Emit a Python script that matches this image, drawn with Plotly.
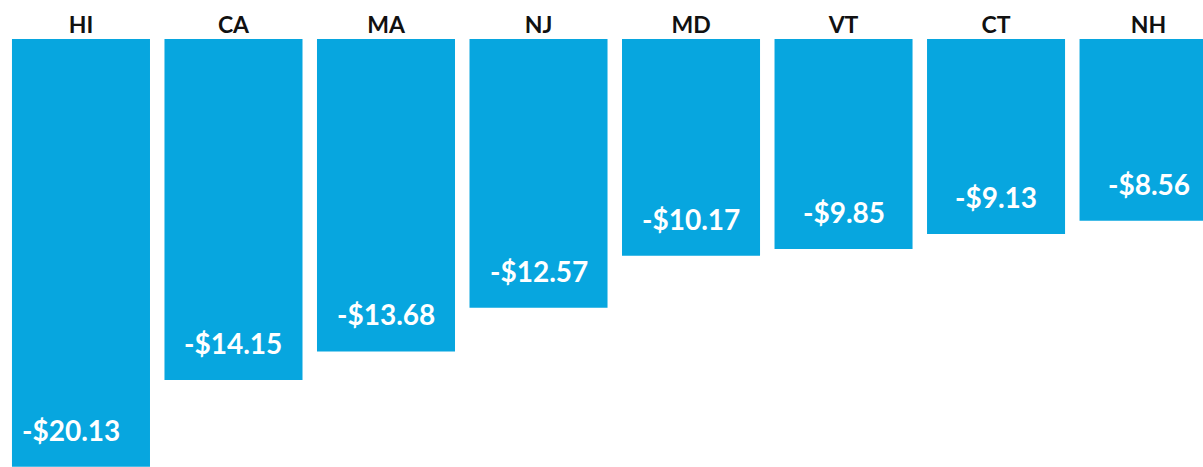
import plotly.graph_objects as go

states = ["HI", "CA", "MA", "NJ", "MD", "VT", "CT", "NH"]
# printed amounts (dollars, shown as negatives)
values = [-20.13, -14.15, -13.68, -12.57, -10.17, -9.85, -9.13, -8.56]
# bar depth as drawn in the reference (not strictly to scale for CA / MA)
bar_depth = [-20.13, -16.05, -14.70, -12.65, -10.20, -9.88, -9.18, -8.55]

BLUE = "#07A6DF"
FONT = "Lato"

fig = go.Figure()
fig.add_trace(go.Bar(x=states, y=bar_depth, width=0.905, marker=dict(color=BLUE, line=dict(width=0)),
                     hoverinfo="skip"))

for s, v, d in zip(states, values, bar_depth):
    fig.add_annotation(x=s, y=d, text=f"-${abs(v):.2f}", showarrow=False, yshift=37,
                       xshift=-10 if s == "HI" else 0,
                       font=dict(family=FONT, size=28, color="white", weight="bold"))

fig.update_layout(
    width=1203, height=467,
    margin=dict(l=0, r=0, t=39, b=0),
    paper_bgcolor="white", plot_bgcolor="white",
    showlegend=False,
    xaxis=dict(side="top", range=[-0.531, 7.357], showgrid=False, zeroline=False, showline=False,
               ticks="", tickfont=dict(family=FONT, size=23, color="#111111", weight="bold")),
    yaxis=dict(range=[-20.14, 0], visible=False, showgrid=False, zeroline=False),
)

fig.write_html("out.html", config={"displayModeBar": False},
               post_script="document.body.style.margin='0';document.body.style.overflow='hidden';")
